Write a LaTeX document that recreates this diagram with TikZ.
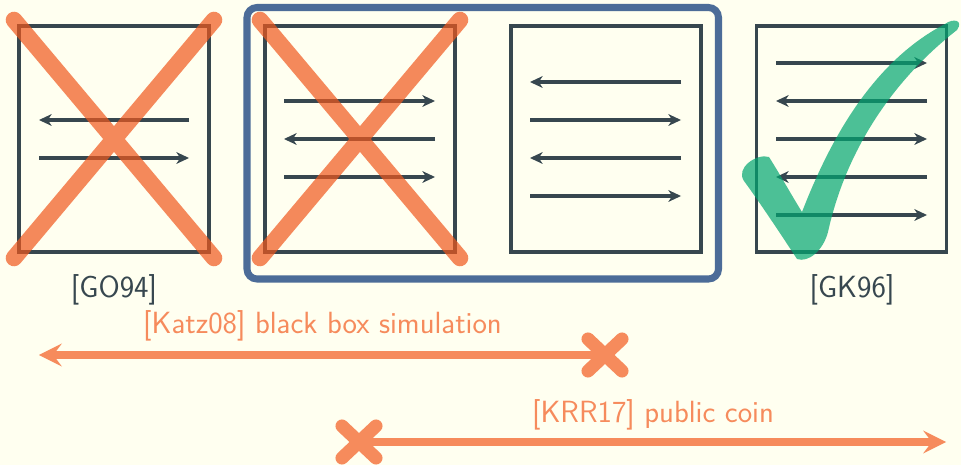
\documentclass[tikz,border=0pt]{standalone}
\usepackage{fontspec}
\usepackage{tikz}
\usetikzlibrary{arrows.meta,calc}

\definecolor{bgcream}{RGB}{255,255,240}
\definecolor{slate}{RGB}{55,71,79}
\definecolor{frameblue}{RGB}{76,108,152}
\definecolor{xorange}{RGB}{240,88,29}
\definecolor{lineorange}{RGB}{246,139,92}
\definecolor{okgreen}{RGB}{0,166,112}

\tikzset{
  pbox/.style={draw=slate, line width=2.2pt, minimum width=4.75cm, minimum height=5.65cm, inner sep=0pt},
  flow/.style={draw=slate, line width=2.4pt, -{Stealth[length=0.32cm, width=0.3cm, inset=0.1cm, line width=0pt]}},
  bigcross/.style={draw=xorange, line width=11.8pt, line cap=round, opacity=0.7},
  smallcross/.style={draw=lineorange, line width=9.3pt, line cap=round},
  claim/.style={draw=lineorange, line width=5.7pt, -{Stealth[length=0.575cm, width=0.58cm, inset=0.22cm, line width=0pt]}},
  lbl/.style={text=slate, font=\fontsize{21.8}{26}\selectfont\sffamily, anchor=base, inner sep=0pt},
  olbl/.style={lbl, text=lineorange},
}

\begin{document}
\begin{tikzpicture}[x=0.025cm, y=-0.025cm]
    \useasboundingbox (0,0) rectangle (961,465);
    \fill[bgcream] (0,0) rectangle (961,465);

    % frame round the middle pair
    \draw[frameblue, line width=5pt, rounded corners=0.25cm] (247,7.5) rectangle (718.5,279);

    % the four boxes
    \node[pbox] (go) at (114,139) {};
    \node[pbox] (midl) at (360,139) {};
    \node[pbox] (midr) at (606,139) {};
    \node[pbox] (gk) at (851.5,139) {};

    % messages
    \foreach \y/\a/\b in {-19/75/-75, 19/-75/75}
        \draw[flow, shift={(go)}] (\a,\y) -- (\b,\y);
    \foreach \y/\a/\b in {-38/-76/75, 0/75/-76, 38/-76/75}
        \draw[flow, shift={(midl)}] (\a,\y) -- (\b,\y);
    \foreach \y/\a/\b in {-57/75/-76, -19/-76/75, 19/75/-76, 57/-76/75}
        \draw[flow, shift={(midr)}] (\a,\y) -- (\b,\y);
    \foreach \y/\a/\b in {-76/-75.5/75.5, -38/75.5/-75.5, 0/-75.5/75.5, 38/75.5/-75.5, 76/-75.5/75.5}
        \draw[flow, shift={(gk)}] (\a,\y) -- (\b,\y);

    % crossed out
    \foreach \b in {go,midl}
        \draw[bigcross, shift={(\b)}] (-100,-119) -- (100,119) (100,-119) -- (-100,119);

    % tick
    \fill[okgreen, opacity=0.7] (797,259) .. controls (780,233) and (758,200) .. (744,181)
        .. controls (735,168) and (757,153) .. (769,157)
        .. controls (781,176) and (792,196) .. (802,212)
        .. controls (828,145) and (870,63) .. (945,24)
        .. controls (953,18) and (964,20) .. (957,30)
        .. controls (893,80) and (846,150) .. (828,232)
        .. controls (823,251) and (808,263) .. (797,259) -- cycle;

    \node[lbl] (golbl) at (114,298) {[GO94]};
    \node[lbl] (gklbl) at (852,298) {[GK96]};

    % results
    \coordinate (katzx) at (605,355);
    \coordinate (katzend) at (39,355);
    \coordinate (krrx) at (359,442);
    \coordinate (krrend) at (946,442);
    \draw[claim] (katzx) -- (katzend);
    \draw[claim] (krrx) -- (krrend);
    \foreach \c in {katzx,krrx}
        \draw[smallcross, shift={(\c)}] (-17,-16) -- (17,16) (17,-16) -- (-17,16);
    \node[olbl] (katzlbl) at (322.5,334) {[Katz08] black box simulation};
    \node[olbl] (krrlbl) at (653,422) {[KRR17] public coin};
\end{tikzpicture}
\end{document}
